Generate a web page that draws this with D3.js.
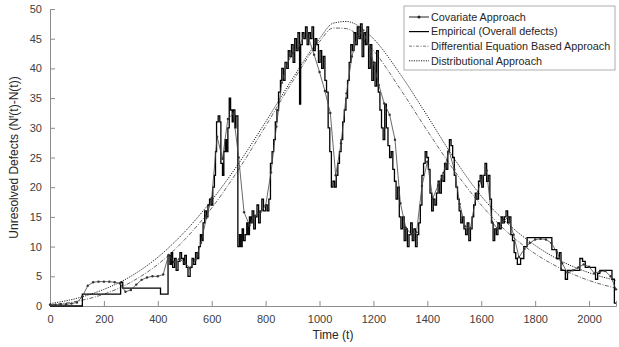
<!DOCTYPE html>
<html>
<head>
<meta charset="utf-8">
<script src="https://cdn.jsdelivr.net/npm/d3@7"></script>
<style>
  body { margin: 0; background: #fff; }
  svg text { font-family: "Liberation Sans", Arial, sans-serif; }
</style>
</head>
<body>
<svg id="chart" width="619" height="347"></svg>
<script>
// tick labels
const timeTicks = [0, 200, 400, 600, 800, 1000, 1200, 1400, 1600, 1800, 2000];
const defectTicks = [0, 5, 10, 15, 20, 25, 30, 35, 40, 45, 50];

const seriesNames = ['Covariate Approach', 'Empirical (Overall defects)',
  'Differential Equation Based Approach', 'Distributional Approach'];

// empirical: [time, unresolved defects], step line
const empirical = [
  [0, 0], [120, 2], [262, 4], [270, 3], [410, 2], [438, 8.5], [445, 7], [450, 9], [455, 6.5],
  [462, 8], [468, 6], [475, 7.5], [482, 9], [488, 8], [495, 7], [500, 8.5], [506, 6.5], [512, 5],
  [520, 6.5], [527, 8], [533, 7], [540, 9], [546, 8], [552, 10], [558, 12], [563, 11], [568, 14],
  [574, 16], [580, 15], [586, 17], [592, 18], [598, 17], [604, 20], [610, 22], [614, 26], [618, 31],
  [624, 32], [630, 31], [634, 24], [640, 22], [645, 26], [650, 28], [655, 26], [660, 30], [665, 35],
  [670, 33], [676, 31], [680, 33], [686, 30], [690, 32], [697, 10], [703, 12], [708, 10], [713, 13],
  [718, 11], [724, 12], [730, 14], [735, 12], [740, 15], [745, 14], [750, 16], [756, 13], [762, 15],
  [768, 17], [774, 14], [780, 16], [786, 18], [792, 16], [800, 17], [806, 16], [812, 18], [818, 24],
  [824, 26], [830, 28], [836, 31], [842, 33], [848, 36], [855, 38], [860, 40], [866, 38], [872, 41],
  [878, 40], [884, 43], [890, 42], [896, 44], [902, 41], [908, 45], [914, 43], [920, 46], [926, 34],
  [930, 44], [936, 46], [942, 45], [948, 47], [954, 44], [960, 46], [966, 45], [972, 47], [978, 43],
  [984, 45], [990, 44], [996, 41], [1002, 43], [1008, 40], [1014, 42], [1020, 38], [1026, 36],
  [1032, 30], [1038, 26], [1044, 20], [1050, 21], [1056, 20], [1062, 22], [1068, 24], [1074, 26],
  [1080, 28], [1086, 31], [1092, 33], [1098, 35], [1104, 38], [1110, 41], [1116, 44], [1122, 43],
  [1128, 46], [1134, 44], [1140, 47], [1146, 45], [1152, 47.5], [1158, 42], [1164, 46], [1170, 44],
  [1176, 47], [1182, 40], [1188, 44], [1194, 38], [1200, 41], [1206, 37], [1212, 43], [1218, 36],
  [1224, 33], [1230, 30], [1236, 28], [1242, 34], [1248, 30], [1254, 27], [1260, 25], [1266, 26],
  [1272, 23], [1278, 21], [1284, 18], [1290, 20], [1296, 15], [1302, 13], [1308, 15], [1314, 11],
  [1320, 13], [1326, 10], [1332, 12], [1338, 14], [1344, 11], [1350, 13], [1356, 10], [1362, 12],
  [1368, 14], [1374, 17], [1380, 22], [1386, 24], [1392, 26], [1398, 25], [1404, 23], [1410, 19],
  [1416, 16], [1422, 18], [1428, 17], [1434, 19], [1440, 21], [1446, 19], [1452, 22], [1458, 21],
  [1464, 24], [1470, 23], [1476, 26], [1482, 28], [1488, 27], [1494, 25], [1500, 22], [1506, 20],
  [1512, 18], [1518, 16], [1524, 14], [1530, 15], [1536, 13], [1542, 12], [1548, 14], [1554, 11],
  [1560, 13], [1566, 15], [1572, 17], [1578, 19], [1584, 18], [1590, 21], [1596, 22], [1602, 20],
  [1608, 22], [1614, 24], [1620, 21], [1626, 22], [1632, 18], [1638, 14], [1644, 11], [1650, 13],
  [1656, 12], [1662, 14], [1668, 13], [1674, 15], [1680, 14], [1686, 15], [1692, 16], [1698, 14],
  [1704, 15], [1710, 12], [1716, 11], [1722, 9], [1728, 8], [1734, 7], [1746, 8], [1758, 10],
  [1770, 11.5], [1862, 9.5], [1880, 8], [1890, 9], [1896, 6], [1912, 4.5], [1920, 6], [1966, 8],
  [1976, 7.5], [1986, 6.5], [2024, 4.5], [2032, 5.5], [2040, 6], [2085, 4.5], [2094, 0.5], [2100, 0.5]
];

// covariate approach
const covariate = [
  [0, 0.2], [20, 0.2], [40, 0.3], [60, 0.3], [80, 0.4], [100, 0.6], [120, 1.6], [140, 3.4], [160, 4.0],
  [180, 4.1], [200, 4.1], [220, 4.1], [240, 4.0], [260, 3.8], [280, 2.4], [300, 2.7], [320, 3.6],
  [340, 4.4], [360, 4.8], [380, 5.0], [400, 5.0], [420, 5.3], [440, 8.6], [460, 7.4], [480, 7.9],
  [500, 7.3], [520, 6.4], [540, 7.8], [560, 10.6], [580, 14.8], [600, 18.2], [620, 28.5], [640, 24.8],
  [660, 31.5], [680, 32.4], [700, 25.0], [720, 15.8], [740, 13.6], [760, 15.2], [780, 15.8], [800, 16.9],
  [820, 22.5], [840, 30.2], [860, 37.6], [880, 40.8], [900, 42.6], [920, 43.4], [940, 45.2], [960, 45.0],
  [980, 42.3], [1000, 39.4], [1020, 36.2], [1040, 32.5], [1060, 22.0], [1080, 27.4], [1100, 35.8],
  [1120, 42.0], [1140, 45.3], [1160, 46.4], [1180, 44.2], [1200, 41.0], [1220, 37.2], [1240, 34.1],
  [1260, 32.2], [1280, 28.0], [1300, 17.3], [1320, 13.2], [1340, 12.1], [1360, 12.4], [1380, 20.2],
  [1400, 24.3], [1420, 18.1], [1440, 20.3], [1460, 22.4], [1480, 26.2], [1500, 23.0], [1520, 17.2],
  [1540, 13.4], [1560, 13.1], [1580, 18.3], [1600, 21.2], [1620, 22.8], [1640, 14.2], [1660, 13.0],
  [1680, 14.1], [1700, 15.0], [1720, 12.0], [1740, 8.2], [1760, 9.6], [1780, 10.6], [1800, 11.2],
  [1820, 11.3], [1840, 11.2], [1860, 10.6], [1880, 9.1], [1900, 7.2], [1920, 5.6], [1940, 6.0],
  [1960, 6.5], [1980, 7.0], [2000, 6.6], [2020, 5.5], [2040, 5.8], [2060, 5.9], [2080, 5.0], [2100, 2.8]
];

// differential equation based approach
const differential = [
  [0, 0.2], [100, 0.8], [200, 2.0], [300, 4.0], [400, 7.0], [500, 11.2], [600, 16.5], [700, 23.0],
  [800, 30.3], [900, 37.8], [1000, 44.5], [1050, 46.8], [1100, 46.7], [1150, 45.3], [1200, 43.0],
  [1300, 36.5], [1400, 29.5], [1500, 22.8], [1600, 17.0], [1700, 12.3], [1800, 8.8], [1900, 6.2],
  [2000, 4.3], [2100, 3.0]
];

// distributional approach
const distributional = [
  [0, 0.4], [100, 1.3], [200, 2.8], [300, 5.0], [400, 8.2], [500, 12.5], [600, 17.8], [700, 24.0],
  [800, 31.0], [900, 38.3], [1000, 45.0], [1050, 47.6], [1100, 47.9], [1150, 47.0], [1200, 45.0],
  [1300, 39.0], [1400, 32.0], [1500, 24.8], [1600, 18.5], [1700, 13.8], [1800, 10.2], [1900, 7.5],
  [2000, 5.6], [2100, 4.3]
];

const margin = {top: 9, right: 3, bottom: 41, left: 50},
  width = 619 - margin.left - margin.right,
  height = 347 - margin.top - margin.bottom;

const svg = d3.select('#chart').append('g')
  .attr('transform', 'translate(' + margin.left + ',' + margin.top + ')');

const x = d3.scaleLinear().domain([0, 2100]).range([0, width]);
const y = d3.scaleLinear().domain([0, 50]).range([height, 0]);

const axisColor = '#8c8c8c';
const textColor = '#404040';

// axes (ticks inside, like matlab)
const xAxis = d3.axisBottom(x).tickValues(timeTicks).tickFormat(d3.format('d')).tickSize(-5).tickPadding(9);
const yAxis = d3.axisLeft(y).tickValues(defectTicks).tickFormat(d3.format('d')).tickSize(-5).tickPadding(8);

const gx = svg.append('g').attr('transform', 'translate(0,' + height + ')').call(xAxis);
const gy = svg.append('g').call(yAxis);
[gx, gy].forEach(function(g) {
  g.select('.domain').attr('stroke', axisColor);
  g.selectAll('.tick line').attr('stroke', axisColor);
  g.selectAll('.tick text').attr('fill', textColor).style('font-size', '11px')
    .style('font-family', '"Liberation Sans", Arial, sans-serif');
});

svg.append('text')
  .attr('x', width / 2).attr('y', height + 33)
  .attr('text-anchor', 'middle').attr('fill', '#262626')
  .style('font-size', '12px').text('Time (t)');

const ylab = svg.append('text')
  .attr('transform', 'translate(-32,' + (height / 2) + ') rotate(-90)')
  .attr('text-anchor', 'middle').attr('fill', '#262626')
  .style('font-size', '12px');
ylab.append('tspan').text('Unresolved Defects (N');
ylab.append('tspan').attr('dy', -4).style('font-size', '8px').text('f');
ylab.append('tspan').attr('dy', 4).text('(t)-N(t))');

const line = d3.line().x(d => x(d[0])).y(d => y(d[1]));

// smooth models
svg.append('path').datum(differential)
  .attr('d', line.curve(d3.curveMonotoneX))
  .attr('fill', 'none').attr('stroke', '#555').attr('stroke-width', 0.9)
  .attr('stroke-dasharray', '4,1.5,1,1.5');

svg.append('path').datum(distributional)
  .attr('d', line.curve(d3.curveMonotoneX))
  .attr('fill', 'none').attr('stroke', '#222').attr('stroke-width', 1)
  .attr('stroke-dasharray', '1.2,1.2');

// empirical step line
svg.append('path').datum(empirical)
  .attr('d', d3.line().x(d => x(d[0])).y(d => y(d[1])).curve(d3.curveStepAfter))
  .attr('fill', 'none').attr('stroke', '#000').attr('stroke-width', 1.3);

// covariate with dot markers
svg.append('path').datum(covariate)
  .attr('d', d3.line().x(d => x(d[0])).y(d => y(d[1])))
  .attr('fill', 'none').attr('stroke', '#444').attr('stroke-width', 0.8);
svg.selectAll('circle.cov').data(covariate).enter().append('circle')
  .attr('class', 'cov')
  .attr('cx', d => x(d[0])).attr('cy', d => y(d[1]))
  .attr('r', 1.2).attr('fill', '#333');

// legend
const legend = d3.select('#chart').append('g').attr('transform', 'translate(404,6)');
legend.append('rect')
  .attr('width', 211).attr('height', 64)
  .attr('fill', '#fff').attr('stroke', '#999').attr('stroke-width', 0.8);

const styles = [
  {stroke: '#222', width: 1, dash: null, dot: true},
  {stroke: '#000', width: 1.2, dash: null, dot: false},
  {stroke: '#666', width: 0.9, dash: '3,1.5,1,1.5', dot: false},
  {stroke: '#222', width: 1, dash: '1.2,1.2', dot: false}
];

seriesNames.forEach(function(name, i) {
  const row = legend.append('g').attr('transform', 'translate(0,' + (11 + i * 14.6) + ')');
  row.append('line')
    .attr('x1', 5).attr('x2', 25)
    .attr('stroke', styles[i].stroke).attr('stroke-width', styles[i].width)
    .attr('stroke-dasharray', styles[i].dash);
  if (styles[i].dot) {
    row.append('circle').attr('cx', 15).attr('r', 1.5).attr('fill', '#222');
  }
  row.append('text')
    .attr('x', 27).attr('dy', '0.35em')
    .attr('fill', '#262626').style('font-size', '10.8px')
    .text(name);
});
</script>
</body>
</html>
